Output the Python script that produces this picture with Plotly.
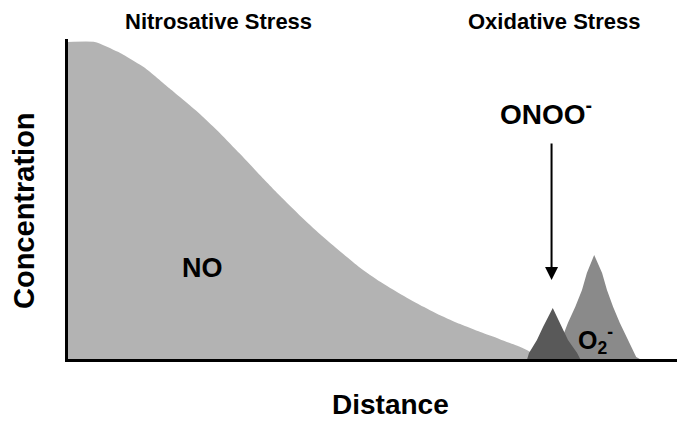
import plotly.graph_objects as go

# NO concentration profile (distance, concentration)
no_x = [0.0, 4.4, 8.2, 12.6, 16.7, 21.7, 25.0, 28.2, 31.5, 34.8, 38.1, 41.4, 44.7,
        47.9, 51.2, 54.5, 57.8, 61.1, 64.4, 67.7, 70.9, 74.2, 75.9, 77.5, 78.5]
no_y = [99.1, 99.1, 96.0, 91.0, 84.5, 76.5, 70.5, 64.2, 57.5, 51.0, 44.8, 39.0, 33.6,
        28.6, 24.2, 20.4, 16.9, 13.7, 10.9, 8.4, 6.2, 3.8, 2.2, 0.6, 0.0]

# Superoxide peak
o2_x = [80.0, 81.0, 82.1, 83.3, 84.4, 85.2, 86.4, 87.7, 88.5, 89.5, 90.6, 91.9, 93.3, 93.9]
o2_y = [0.0, 5.9, 11.3, 16.3, 21.6, 26.9, 32.5, 26.9, 21.6, 16.3, 11.3, 5.9, 0.6, 0.0]

# Peroxynitrite peak
onoo_x = [75.4, 75.7, 77.0, 78.0, 79.6, 81.1, 82.1, 83.6, 84.1]
onoo_y = [0.0, 1.9, 5.9, 10.0, 15.9, 10.0, 5.9, 1.9, 0.0]

FONT = "Liberation Sans, Arial, Helvetica, sans-serif"

fig = go.Figure()
fig.add_trace(go.Scatter(x=no_x, y=no_y, mode="lines", fill="tozeroy",
                         line=dict(width=0, shape="spline", smoothing=0.5),
                         fillcolor="#b3b3b3", hoverinfo="skip", showlegend=False))
fig.add_trace(go.Scatter(x=o2_x, y=o2_y, mode="lines", fill="tozeroy",
                         line=dict(width=0, shape="linear"),
                         fillcolor="#8a8a8a", hoverinfo="skip", showlegend=False))
fig.add_trace(go.Scatter(x=onoo_x, y=onoo_y, mode="lines", fill="tozeroy",
                         line=dict(width=0, shape="linear"),
                         fillcolor="#595959", hoverinfo="skip", showlegend=False))

# page offset of the figure inside the browser body (default 8px margin)
OFF = 8
W, H = 685 - OFF, 423 - OFF
L, R, T, B = 68 - OFF, 8, 39 - OFF, 64
pw, ph = W - L - R, H - T - B


def px(xp):
    return (xp - OFF - L) / pw


def py(yp):
    return (H - B - (yp - OFF)) / ph


def txt(text, x, y, size, xanchor="center", yanchor="middle", angle=0):
    fig.add_annotation(text=text, x=px(x), y=py(y), xref="paper", yref="paper",
                       showarrow=False, xanchor=xanchor, yanchor=yanchor,
                       textangle=angle, borderpad=0,
                       font=dict(family=FONT, size=size, color="black"))


txt("<b>Nitrosative Stress</b>", 218, 22, 22)
txt("<b>Oxidative Stress</b>", 554, 22, 22)
txt("<b>ONOO<sup>-</sup></b>", 499, 112, 28, xanchor="left")
txt("<b>NO</b>", 202, 268, 27)
txt("<b>O<sub>2</sub><sup>-</sup></b>", 577, 340, 25, xanchor="left")
txt("<b>Concentration</b>", 24, 211, 29, angle=-90)
txt("<b>Distance</b>", 390, 404, 28)

# arrow pointing to ONOO- peak
fig.add_annotation(x=79.4, y=24.7, ax=79.4, ay=67.8, xref="x", yref="y",
                   axref="x", ayref="y", text="", showarrow=True,
                   arrowhead=2, arrowsize=1.3, arrowwidth=2, arrowcolor="black")

fig.update_layout(
    width=W, height=H,
    margin=dict(l=L, r=R, t=T, b=B),
    paper_bgcolor="white", plot_bgcolor="white",
    xaxis=dict(range=[0, 100], showline=True, linecolor="black", linewidth=3,
               showgrid=False, zeroline=False, showticklabels=False, ticks=""),
    yaxis=dict(range=[0, 100], showline=True, linecolor="black", linewidth=3,
               showgrid=False, zeroline=False, showticklabels=False, ticks=""),
)

fig.write_html("out.html")
